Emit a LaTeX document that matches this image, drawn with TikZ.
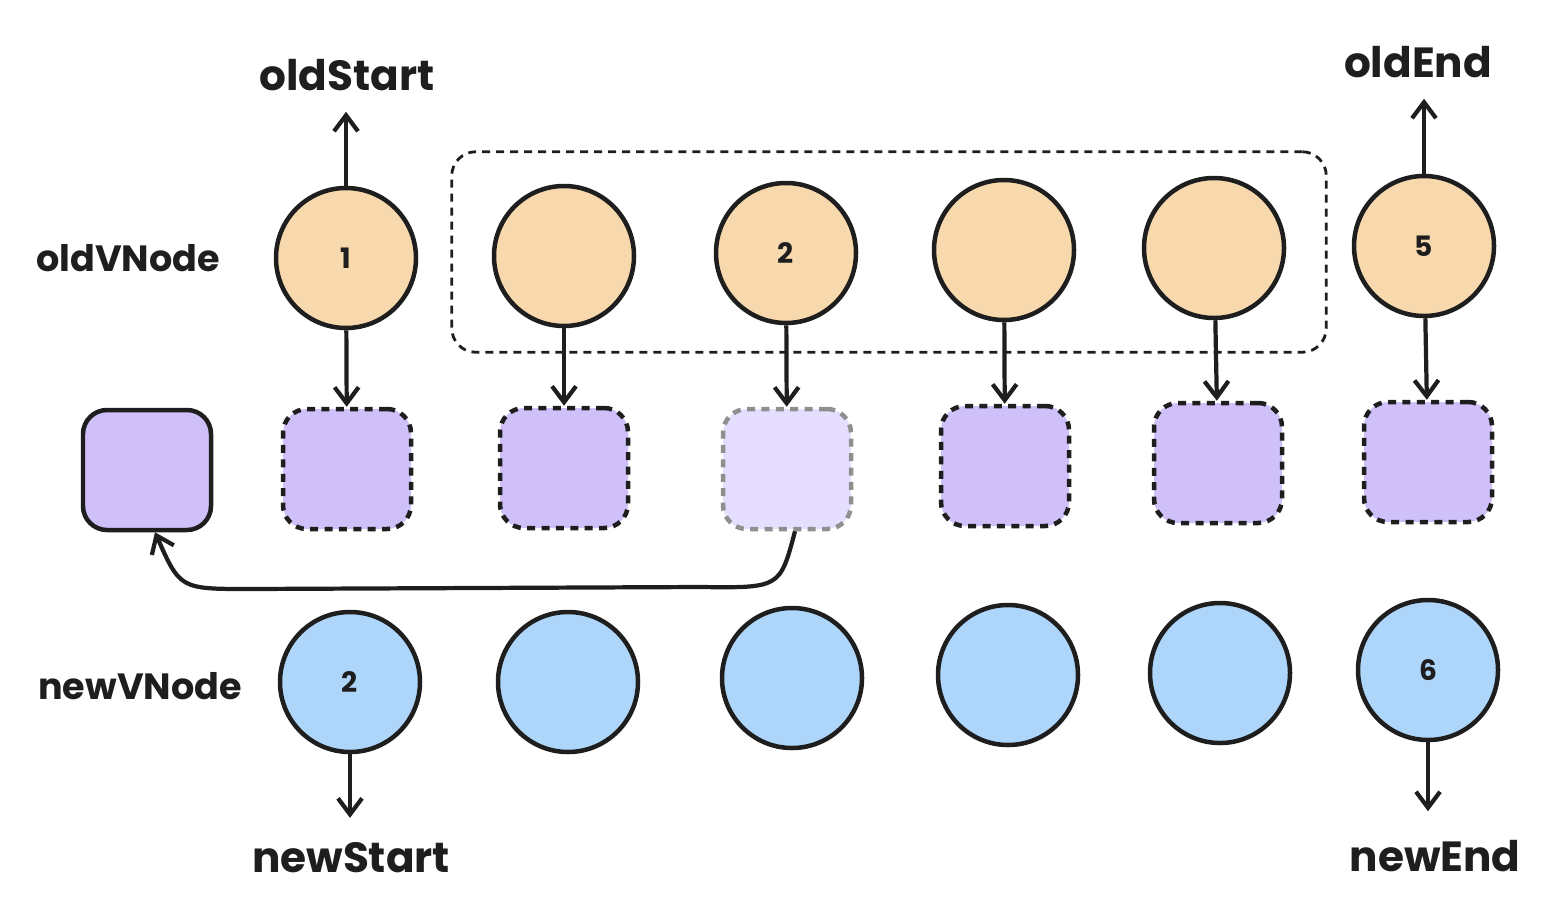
\documentclass[tikz,border=0pt]{standalone}
\usepackage{fontspec}
\setmainfont{Poppins}
\usetikzlibrary{arrows.meta,fit}
\definecolor{ink}{HTML}{1E1E1E}
\definecolor{oldfill}{HTML}{F8D9AD}
\definecolor{newfill}{HTML}{AED6FA}
\definecolor{boxfill}{HTML}{CFC0FA}
\definecolor{ghostfill}{HTML}{E5DEFE}
\definecolor{ghostline}{HTML}{8F8F8F}
\begin{document}
\begin{tikzpicture}[
    x=0.25mm, y=-0.25mm,
    oldnode/.style={circle, draw=ink, line width=3.2pt, fill=oldfill, minimum size=35mm,
                    inner sep=0pt, font=\bfseries\fontsize{20}{22}\selectfont, text=ink},
    newnode/.style={oldnode, fill=newfill},
    vbox/.style={draw=ink, line width=3.2pt, fill=boxfill, rounded corners=6mm,
                 minimum width=32mm, minimum height=30mm},
    vboxd/.style={vbox, dashed, dash pattern=on 2mm off 1.6mm},
    lbl/.style={font=\bfseries\fontsize{30}{34}\selectfont, text=ink},
    rowlbl/.style={font=\bfseries\fontsize{26}{30}\selectfont, text=ink},
    arrow/.style={-{Straight Barb[length=4mm, width=6mm]}, draw=ink, line width=3pt}
]
\useasboundingbox (0,0) rectangle (1564,918);

% row labels
\node[rowlbl] (oldrow) at (128,258) {oldVNode};
\node[rowlbl] (newrow) at (140,686) {newVNode};

% old vnodes
\node[oldnode] (o1) at (346,258) {1};
\node[oldnode] (o2) at (564,256) {};
\node[oldnode] (o3) at (786,253) {2};
\node[oldnode] (o4) at (1004,250) {};
\node[oldnode] (o5) at (1214,248) {};
\node[oldnode] (o6) at (1424,246) {5};

% unprocessed range
\node[draw=ink, line width=2pt, dashed, dash pattern=on 2mm off 1.5mm, rounded corners=6mm,
      fit=(o2)(o5), inner xsep=10mm, inner ysep=6mm] (range) {};

% real DOM
\node[vbox] (s0) at (147,470) {};
\node[vboxd] (s1) at (347,469) {};
\node[vboxd] (s2) at (564,468) {};
\node[vboxd, draw=ghostline, fill=ghostfill] (s3) at (787,469) {};
\node[vboxd] (s4) at (1005,466) {};
\node[vboxd] (s5) at (1218,463) {};
\node[vboxd] (s6) at (1428,462) {};

% new vnodes
\node[newnode] (n1) at (350,682) {2};
\node[newnode] (n2) at (568,682) {};
\node[newnode] (n3) at (792,678) {};
\node[newnode] (n4) at (1008,675) {};
\node[newnode] (n5) at (1220,673) {};
\node[newnode] (n6) at (1428,670) {6};

% pointers
\node[lbl] (ostart) at (347,75) {oldStart};
\node[lbl] (oend) at (1418,62) {oldEnd};
\node[lbl] (nstart) at (351,858) {newStart};
\node[lbl] (nend) at (1435,856) {newEnd};

% Arrows
\draw[arrow, shorten >=4mm] (o1) -- (o1 |- ostart.south);
\draw[arrow, shorten >=4mm] (o6) -- (o6 |- oend.south);
\draw[arrow, shorten >=5mm] (n1) -- (n1 |- nstart.north);
\draw[arrow, shorten >=6mm] (n6) -- (n6 |- nend.north);
\foreach \i in {1,...,6}
    \draw[arrow] (o\i) -- (s\i);

% move to front
\draw[arrow] ([xshift=2mm]s3.south) .. controls (780,588) .. (700,587)
    -- (250,589) .. controls (180,589) .. ([xshift=2mm]s0.south);
\end{tikzpicture}
\end{document}
